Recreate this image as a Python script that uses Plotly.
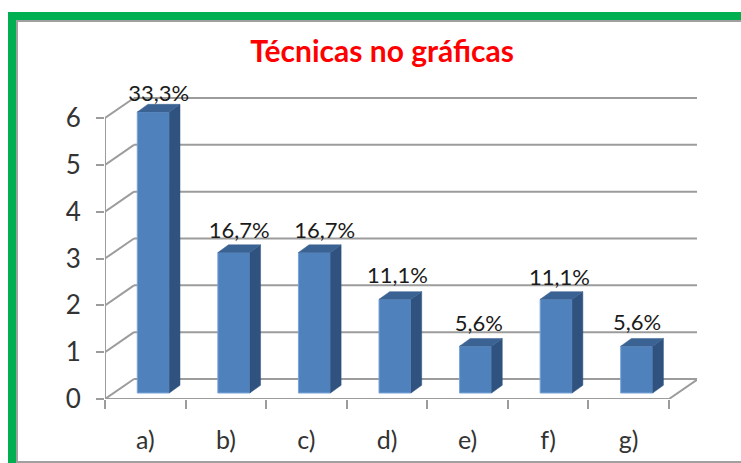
import plotly.graph_objects as go

categories = ["a)", "b)", "c)", "d)", "e)", "f)", "g)"]
values = [6, 3, 3, 2, 1, 2, 1]
labels = ["33,3%", "16,7%", "16,7%", "11,1%", "5,6%", "11,1%", "5,6%"]
y_ticks = [0, 1, 2, 3, 4, 5, 6]

W, H = 741, 463
FONT = "Lato, 'Open Sans', sans-serif"
GRID = "#9c9c9c"
FRONT = "#4f81bd"
SIDE = "#2f527f"
TOP = "#3a6292"

# plot frame in pixels, and the scale it gives
L, R, T, B = 105, 697, 60, 399
UX = 80.57
UY = 46.83
x_range = [-0.5, -0.5 + (R - L) / UX]
y_range = [0, (B - T) / UY]

# oblique offsets of the pseudo-3D box (data units)
WALL_DX, WALL_DY = 29 / UX, 20 / UY
BAR_DX, BAR_DY = 10.7 / UX, 7.7 / UY
BAR_BASE = 6 / UY
BAR_LEFT = -8 / UX
BAR_W = 32 / UX
FRONT_END = len(categories) - 0.5

# small hand placement of the data labels, in pixels (right, up)
LABEL_NUDGE_X = [0, 0, 5, -3, -2, -2, -5]
LABEL_NUDGE_Y = [-2, 1, 1, 3, 2, 1, 3]

shapes = []
def ln(x0, y0, x1, y1):
    shapes.append(dict(type="line", xref="x", yref="y", x0=x0, y0=y0, x1=x1, y1=y1,
                       layer="below", line=dict(color=GRID, width=2)))

for t in y_ticks:
    ln(-0.5, t, -0.5 + WALL_DX, t + WALL_DY)
    ln(-0.5 + WALL_DX, t + WALL_DY, FRONT_END + WALL_DX, t + WALL_DY)
ln(-0.5, 0, -0.5, max(y_ticks))
ln(-0.5, 0, FRONT_END, 0)
ln(FRONT_END, 0, FRONT_END + WALL_DX, WALL_DY)

# page frame: "paper" shape coordinates are fractions of the plot area
def px(x): return (x - L) / (R - L)
def py(y): return (B - y) / (B - T)
def rect(x0, y0, x1, y1, color):
    shapes.append(dict(type="rect", xref="paper", yref="paper", x0=px(x0), x1=px(x1),
                       y0=py(y0), y1=py(y1), fillcolor=color, line=dict(width=0), layer="below"))
rect(8, 12, W, 20, "#00b050")
rect(8, 12, 16, H, "#00b050")
rect(16, 20, W, 22, "#a0a0a0")
rect(16, 20, 18, H, "#a0a0a0")
rect(16, 461, W, H, "#a0a0a0")

fig = go.Figure()

positions = list(range(len(categories)))
fig.add_trace(go.Bar(
    x=positions, y=values, base=BAR_BASE, width=BAR_W, offset=BAR_LEFT,
    marker=dict(color=FRONT, line=dict(color="#7ba3d6", width=1)),
))

for i, v in zip(positions, values):
    x0 = i + BAR_LEFT
    x1 = x0 + BAR_W
    y0 = BAR_BASE
    y1 = BAR_BASE + v
    fig.add_trace(go.Scatter(
        x=[x1, x1 + BAR_DX, x1 + BAR_DX, x1, x1],
        y=[y0, y0 + BAR_DY, y1 + BAR_DY, y1, y0],
        mode="lines", fill="toself", fillcolor=SIDE, line=dict(color=SIDE, width=0.5),
    ))
    fig.add_trace(go.Scatter(
        x=[x0, x1, x1 + BAR_DX, x0 + BAR_DX, x0],
        y=[y1, y1, y1 + BAR_DY, y1 + BAR_DY, y1],
        mode="lines", fill="toself", fillcolor=TOP, line=dict(color=TOP, width=0.5),
    ))

fig.add_trace(go.Scatter(
    x=[i + BAR_LEFT + (BAR_W + BAR_DX) / 2 + nx / UX for i, nx in zip(positions, LABEL_NUDGE_X)],
    y=[BAR_BASE + v + BAR_DY + ny / UY for v, ny in zip(values, LABEL_NUDGE_Y)],
    mode="text", text=labels, textposition="top center",
    textfont=dict(family=FONT, size=22, color="#1a1a1a"), cliponaxis=False,
))

fig.update_layout(
    width=W, height=H, autosize=False,
    margin=dict(l=L, r=W - R, t=T, b=H - B, pad=0),
    paper_bgcolor="white", plot_bgcolor="rgba(0,0,0,0)",
    showlegend=False, shapes=shapes,
    title=dict(text="<b>Técnicas no gráficas</b>", x=382 / W, xanchor="center",
               xref="container", yref="container", y=1 - 51 / H, yanchor="middle",
               font=dict(family=FONT, size=30, color="#ff0000")),
    xaxis=dict(
        type="linear", range=x_range, showgrid=False, zeroline=False, showline=False,
        automargin=False,
        tickmode="array", tickvals=positions, ticktext=categories, ticks="", ticklen=0,
        ticklabelstandoff=24, tickfont=dict(family=FONT, size=25, color="#333333"),
        minor=dict(tick0=-0.5, dtick=1, ticks="outside", ticklen=9, tickwidth=2,
                   tickcolor=GRID, showgrid=False),
    ),
    yaxis=dict(
        type="linear", range=y_range, showgrid=False, zeroline=False, showline=False,
        automargin=False,
        tickmode="array", tickvals=y_ticks, ticks="outside", ticklen=8, tickwidth=2,
        tickcolor=GRID, ticklabelstandoff=10,
        tickfont=dict(family=FONT, size=26, color="#333333"),
    ),
)

fig.write_html("out.html", config=dict(displayModeBar=False),
               post_script="document.body.style.margin='0';document.body.style.overflow='hidden';")
